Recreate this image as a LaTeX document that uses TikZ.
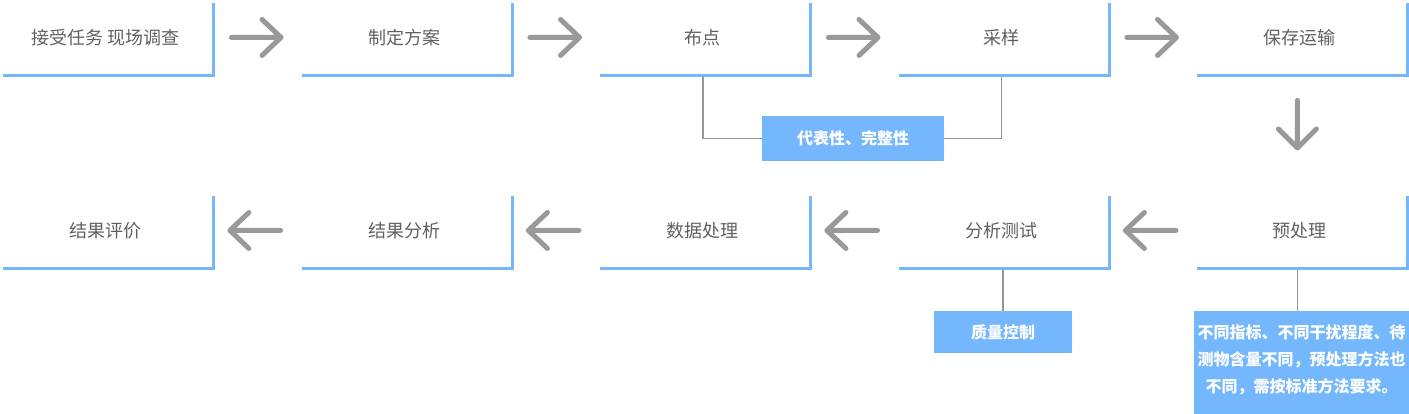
\documentclass[tikz,border=0pt]{standalone}
\usepackage{fontspec}
\setmainfont{Noto Sans CJK SC}
\definecolor{bl}{RGB}{116,183,253}
\definecolor{tx}{RGB}{96,96,96}
\definecolor{ar}{RGB}{153,153,153}
\definecolor{ln}{RGB}{150,150,150}
\newcommand\bxedges[1]{\draw[edge] ([xshift=5pt]#1.north east) -- ([xshift=5pt,yshift=-4pt]#1.south east) -- ([yshift=-4pt]#1.south west);}
\begin{document}
\begin{tikzpicture}[x=1pt,y=-1pt,
  box/.style={minimum width=205.5pt, minimum height=68.5pt, inner sep=0pt, anchor=north west, text=tx, font=\fontsize{18}{22}\selectfont},
  edge/.style={draw=bl, line width=3pt},
  arr/.style={draw=ar, line width=5pt, line cap=round, line join=round},
  conn/.style={draw=ln, line width=1.5pt},
  lab/.style={fill=bl, text=white, inner sep=0pt, font=\bfseries\fontsize{16}{27}\selectfont}]
\useasboundingbox (0,0) rectangle (1409,414);
% top row
\node[box] (b1) at (3,3) {接受任务 现场调查};
\node[box] (b2) at (301.5,3) {制定方案};
\node[box] (b3) at (600,3) {布点};
\node[box] (b4) at (898.5,3) {采样};
\node[box] (b5) at (1197,3) {保存运输};
% bottom row
\node[box] (b6) at (3,196) {结果评价};
\node[box] (b7) at (301.5,196) {结果分析};
\node[box] (b8) at (600,196) {数据处理};
\node[box] (b9) at (898.5,196) {分析测试};
\node[box] (b10) at (1197,196) {预处理};
% labels
\node[lab, minimum width=182pt, minimum height=45pt] (lab1) at (853,138.5) {代表性、完整性};
\node[lab, minimum width=138pt, minimum height=42pt] (lab2) at (1003,332) {质量控制};
\node[lab, minimum width=215pt, minimum height=103pt] (lab3) at (1301.5,362.5) {};
\node[text=white, inner sep=0pt, align=center, font=\bfseries\fontsize{16}{27}\selectfont] (lab3t) at (1301.5,360) {不同指标、不同干扰程度、待\\测物含量不同，预处理方法也\\不同，需按标准方法要求。};
% connectors to labels
\draw[conn] ([yshift=-4pt]b3.south) |- (lab1.west);
\draw[conn] ([yshift=-4pt]b4.south) |- (lab1.east);
\draw[conn] ([xshift=1.5pt,yshift=-4pt]b9.south) -- ([xshift=1.5pt]b9.south |- lab2.north);
\draw[conn] ([xshift=-2.5pt,yshift=-4pt]b10.south) -- ([xshift=-2.5pt]b10.south |- lab3.north);
% box edges
\foreach \b in {b1,b2,b3,b4,b5,b6,b7,b8,b9,b10} {\bxedges{\b}}
% right arrows
\foreach \i/\j in {b1/b2,b2/b3,b3/b4,b4/b5} {
  \path ([xshift=22.5pt]\i.east) coordinate (t) ([xshift=-20.5pt]\j.west) coordinate (h);
  \draw[arr] (t) -- (h) ++(-19,-18) -- (h) -- ++(-19,18);
}
% left arrows
\foreach \i/\j in {b6/b7,b7/b8,b8/b9,b9/b10} {
  \path ([xshift=21pt]\i.east) coordinate (h) ([xshift=-21pt]\j.west) coordinate (t);
  \draw[arr] (t) -- (h) ++(19,-18) -- (h) -- ++(19,18);
}
% down arrow
\path ([xshift=-2.5pt,yshift=-28.5pt]b5.south) coordinate (dt) ([xshift=-2.5pt,yshift=48pt]b10.north) coordinate (dh);
\draw[arr] (dt) -- (dh) ++(-19,-19) -- (dh) -- ++(19,-19);
\end{tikzpicture}
\end{document}
